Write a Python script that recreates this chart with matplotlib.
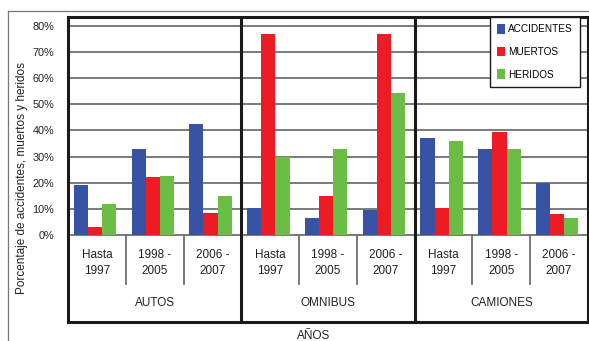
import matplotlib
matplotlib.use('Agg')
import matplotlib.pyplot as plt
from matplotlib.lines import Line2D
import numpy as np

plt.rcParams['font.family'] = ['Liberation Sans', 'DejaVu Sans']

# Datos por tipo de vehiculo y periodo (porcentajes)
grupos = ['AUTOS', 'OMNIBUS', 'CAMIONES']
periodos = ['Hasta\n1997', '1998 -\n2005', '2006 -\n2007']
accidentes = [19, 33, 42.5, 10.5, 6.5, 9.5, 37, 33, 20]
muertos = [3, 22, 8.5, 77, 15, 77, 10.5, 39.5, 8]
heridos = [12, 22.5, 15, 30, 33, 54.5, 36, 33, 6.5]
yticks = [0, 10, 20, 30, 40, 50, 60, 70, 80]

colores = {'ACCIDENTES': '#3953a4', 'MUERTOS': '#ed1c24', 'HERIDOS': '#6abd45'}

W, H = 589, 341
fig = plt.figure(figsize=(W / 100, H / 100), dpi=100)
ax = fig.add_axes([68 / W, 1 - 322 / H, 520 / W, (322 - 17) / H])

ymin = -(322 - 235) / 2.61
ymax = 80 + (26 - 17) / 2.61
ax.set_xlim(0, 9)
ax.set_ylim(ymin, ymax)

# lineas de grilla solo dentro del area de datos
for t in yticks:
    ax.axhline(t, color='#707070', lw=1.3, zorder=1)

x = np.arange(9)
ancho = 0.245
inicio = 0.1
series = [('ACCIDENTES', accidentes), ('MUERTOS', muertos), ('HERIDOS', heridos)]
for i, (nombre, vals) in enumerate(series):
    ax.bar(x + inicio + i * ancho, vals, width=ancho, align='edge',
           color=colores[nombre], label=nombre, zorder=2)

# separadores de periodos y de grupos
sub_bottom = -(284 - 235) / 2.61
for xs in [1, 2, 4, 5, 7, 8]:
    ax.plot([xs, xs], [sub_bottom, 0], color='#707070', lw=1.3, zorder=1)
for xs in [3, 6]:
    ax.plot([xs, xs], [ymin, ymax], color='#1a1a1a', lw=2.2, zorder=3)

for k in range(9):
    ax.text(k + 0.5, -(263 - 235) / 2.61, periodos[k % 3], ha='center', va='center',
            multialignment='center', fontsize=8.5, color='#222222', linespacing=1.5)
for g, nombre in enumerate(grupos):
    ax.text(g * 3 + 1.5, -(303 - 235) / 2.61, nombre, ha='center', va='center',
            fontsize=8.5, color='#222222')

ax.set_xticks([])
ax.set_yticks(yticks)
ax.set_yticklabels([f'{t}%' for t in yticks], fontsize=7.8, color='#222222')
ax.tick_params(axis='y', length=0, pad=10)
for s in ax.spines.values():
    s.set_linewidth(2.2)
    s.set_color('#1a1a1a')

leg = ax.legend(loc='upper left', bbox_to_anchor=(490 / W, 1 - 17 / H),
                bbox_transform=fig.transFigure, borderaxespad=0, fontsize=7.2,
                handlelength=0.8, handleheight=1.1, handletextpad=0.3,
                labelspacing=1.25, fancybox=False, framealpha=1,
                borderpad=0.7, edgecolor='#1a1a1a')
leg.get_frame().set_linewidth(1.0)
leg.set_zorder(5)

fig.text(22 / W, 1 - 178 / H, 'Porcentaje de accidentes, muertos y heridos',
         rotation=90, ha='center', va='center', fontsize=8.5, color='#222222')
fig.text(314 / W, 1 - 336 / H, 'AÑOS', ha='center', va='center',
         fontsize=8.5, color='#222222')

# marco exterior
fig.add_artist(Line2D([8 / W, 1], [1 - 10.5 / H] * 2, color='#777777', lw=0.9))
fig.add_artist(Line2D([8 / W] * 2, [0, 1 - 10.5 / H], color='#777777', lw=0.9))

fig.savefig('out.png', dpi=100)
